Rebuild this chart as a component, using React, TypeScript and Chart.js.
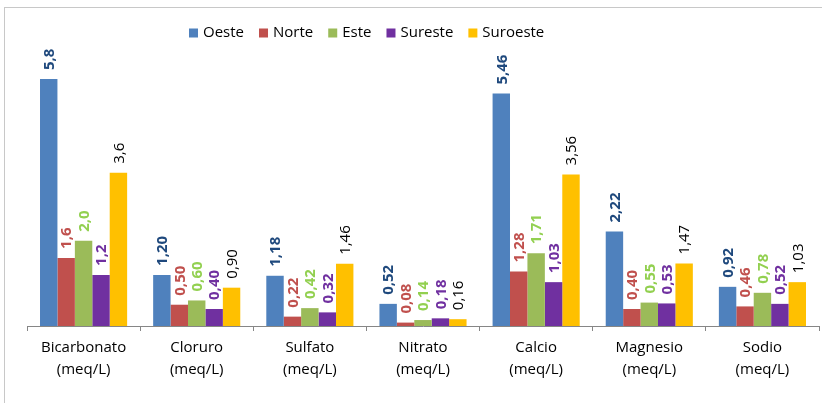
import React, { useEffect, useRef } from "react";
import { Chart, registerables } from "chart.js";

Chart.register(...registerables);

const categories: string[][] = [
  ["Bicarbonato", "(meq/L)"],
  ["Cloruro", "(meq/L)"],
  ["Sulfato", "(meq/L)"],
  ["Nitrato", "(meq/L)"],
  ["Calcio", "(meq/L)"],
  ["Magnesio", "(meq/L)"],
  ["Sodio", "(meq/L)"],
];

const oeste = [5.8, 1.2, 1.18, 0.52, 5.46, 2.22, 0.92];
const norte = [1.6, 0.5, 0.22, 0.08, 1.28, 0.4, 0.46];
const este = [2.0, 0.6, 0.42, 0.14, 1.71, 0.55, 0.78];
const sureste = [1.2, 0.4, 0.32, 0.18, 1.03, 0.53, 0.52];
const suroeste = [3.6, 0.9, 1.46, 0.16, 3.56, 1.47, 1.03];

const labelDecimals = [1, 2, 2, 2, 2, 2, 2];

const seriesNames = ["Oeste", "Norte", "Este", "Sureste", "Suroeste"];
const seriesData = [oeste, norte, este, sureste, suroeste];
const barColors = ["#4F81BD", "#C0504D", "#9BBB59", "#7030A0", "#FFC000"];
const labelColors = ["#1F497D", "#C0504D", "#92D050", "#7030A0", "#000000"];
const labelBold = [true, true, true, true, false];

const FONT = "'Open Sans', 'Liberation Sans', sans-serif";

const framePlugin = {
  id: "frame",
  beforeDraw(chart: any) {
    const ctx = chart.ctx;
    ctx.save();
    ctx.fillStyle = "#ffffff";
    ctx.fillRect(0, 0, chart.width, chart.height);
    ctx.strokeStyle = "#c8c8c8";
    ctx.lineWidth = 1;
    ctx.strokeRect(4.5, 7.5, chart.width + 20, chart.height + 20);
    ctx.restore();
  },
};

const labelPlugin = {
  id: "barLabels",
  afterDatasetsDraw(chart: any) {
    const ctx = chart.ctx;
    chart.data.datasets.forEach((ds: any, i: number) => {
      const meta = chart.getDatasetMeta(i);
      ctx.save();
      ctx.fillStyle = labelColors[i];
      ctx.font = `${labelBold[i] ? "bold " : ""}15px ${FONT}`;
      meta.data.forEach((bar: any, j: number) => {
        const v = ds.data[j] as number;
        const txt = v.toFixed(labelDecimals[j]).replace(".", ",");
        ctx.save();
        ctx.translate(bar.x + 1, bar.y - 9);
        ctx.rotate(-Math.PI / 2);
        ctx.textAlign = "left";
        ctx.textBaseline = "middle";
        ctx.fillText(txt, 0, 0);
        ctx.restore();
      });
      ctx.restore();
    });
  },
};

const legendPlugin = {
  id: "customLegend",
  afterDraw(chart: any) {
    const ctx = chart.ctx;
    ctx.save();
    ctx.font = `15px ${FONT}`;
    ctx.textBaseline = "middle";
    ctx.textAlign = "left";
    let x = 189;
    const yMid = 33;
    chart.data.datasets.forEach((ds: any, i: number) => {
      ctx.fillStyle = barColors[i];
      ctx.fillRect(x, yMid - 4.5, 9, 9);
      x += 14;
      ctx.fillStyle = "#000000";
      ctx.fillText(ds.label, x, yMid);
      x += ctx.measureText(ds.label).width + 15;
    });
    ctx.restore();
  },
};

export default function App() {
  const canvasRef = useRef<HTMLCanvasElement | null>(null);

  useEffect(() => {
    document.body.style.margin = "0";
    Chart.defaults.font.family = FONT;
    const canvas = canvasRef.current!;
    const chart = new Chart(canvas, {
      type: "bar",
      data: {
        labels: categories,
        datasets: seriesNames.map((name, i) => ({
          label: name,
          data: seriesData[i],
          backgroundColor: barColors[i],
          borderWidth: 0,
          categoryPercentage: 0.77,
          barPercentage: 1.0,
        })),
      },
      options: {
        responsive: false,
        animation: false,
        layout: { padding: { top: 28, left: 27, right: 3, bottom: 0 } },
        plugins: {
          legend: { display: false },
          tooltip: { enabled: false },
        },
        scales: {
          x: {
            grid: {
              drawOnChartArea: false,
              drawTicks: true,
              tickLength: 5,
              color: "#868686",
            },
            border: { display: true, color: "#868686", width: 1 },
            ticks: {
              color: "#000000",
              font: { size: 15, family: FONT, lineHeight: 1.47 },
              padding: 6,
              maxRotation: 0,
              autoSkip: false,
            },
            afterFit: (scale: any) => {
              scale.height = 77;
            },
          },
          y: {
            display: false,
            min: 0,
            max: 7,
          },
        },
      },
      plugins: [framePlugin, labelPlugin, legendPlugin],
    });
    return () => chart.destroy();
  }, []);

  return (
    <div style={{ position: "absolute", left: 0, top: 0, width: 822, height: 403 }}>
      <canvas ref={canvasRef} width={822} height={403} style={{ display: "block", width: 822, height: 403 }} />
    </div>
  );
}
